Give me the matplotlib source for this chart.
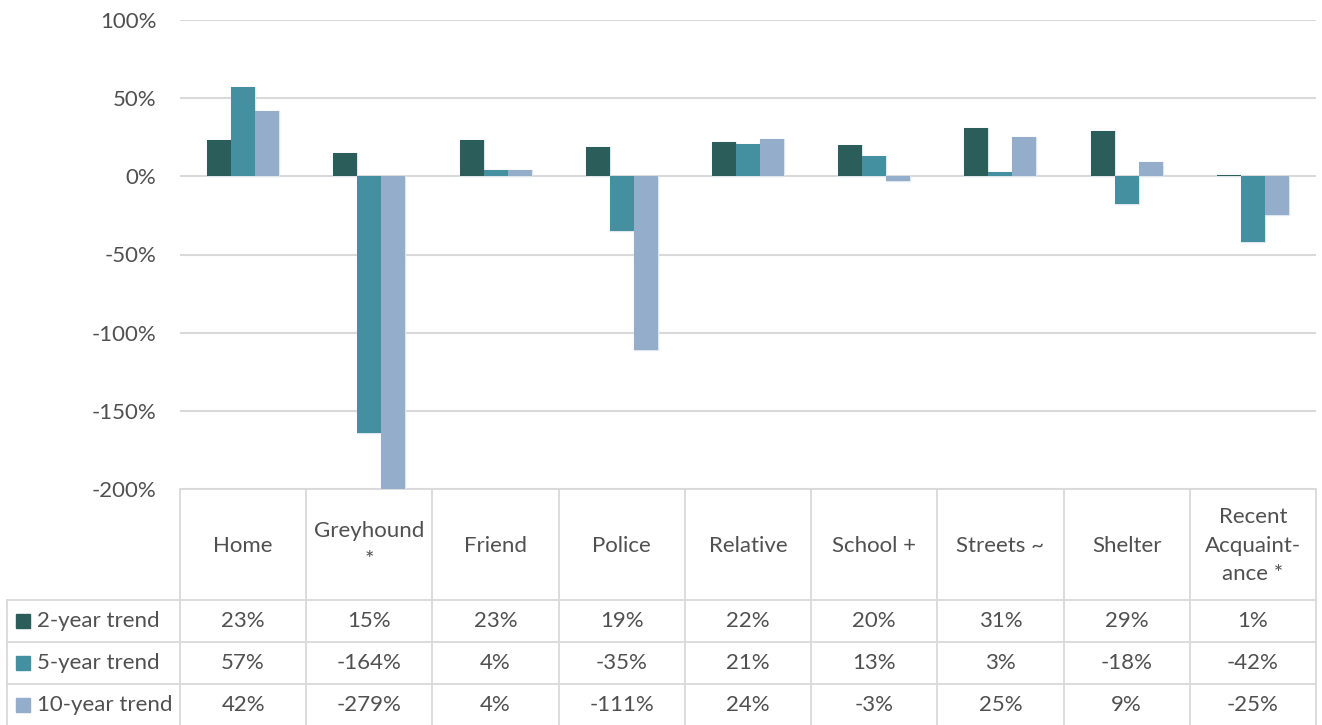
import numpy as np
import matplotlib
matplotlib.use("Agg")
import matplotlib.pyplot as plt
from matplotlib.patches import Rectangle

# data
categories = ["Home", "Greyhound\n*", "Friend", "Police", "Relative",
              "School +", "Streets ~", "Shelter", "Recent\nAcquaint-\nance *"]
series_names = ["2-year trend", "5-year trend", "10-year trend"]
trend_2yr = [23, 15, 23, 19, 22, 20, 31, 29, 1]
trend_5yr = [57, -164, 4, -35, 21, 13, 3, -18, -42]
trend_10yr = [42, -279, 4, -111, 24, -3, 25, 9, -25]
y_ticks = [100, 50, 0, -50, -100, -150, -200]

colors = ["#2b5e5b", "#4590a0", "#93adcb"]
text_color = "#505050"
grid_color = "#d9d9d9"
plt.rcParams["font.family"] = ["Lato", "DejaVu Sans"]
FS = 16

W, H = 1322, 725
LEFT, RIGHT = 180, 1316
TOP, BOTTOM = 20, 489
ROWS = [489, 600, 642, 684, 726]
LEG_X = 7

fig = plt.figure(figsize=(W / 100, H / 100), dpi=100)
ax = fig.add_axes([LEFT / W, 1 - BOTTOM / H, (RIGHT - LEFT) / W, (BOTTOM - TOP) / H])

x = np.arange(len(categories))
bw = 0.19
all_series = [trend_2yr, trend_5yr, trend_10yr]
for k, vals in enumerate(all_series):
    pos = x + (k - 1) * bw
    h = np.array(vals) / 100.0
    # light outline drawn under the face so tiny bars stay visible
    ax.bar(pos, h, bw, color=colors[k], edgecolor="#dfe7ee", linewidth=1.0, zorder=2)
    ax.bar(pos, h, bw, color=colors[k], linewidth=0, zorder=3)

ax.set_xlim(-0.5, len(categories) - 0.5)
ax.set_ylim(-2, 1)
ax.set_yticks([t / 100 for t in y_ticks])
ax.set_yticklabels([f"{t}%" for t in y_ticks], fontsize=FS, color=text_color)
ax.tick_params(axis="y", length=0, pad=17)
ax.tick_params(axis="x", length=0, labelbottom=False)
ax.yaxis.grid(True, color=grid_color, linewidth=1.5, zorder=0)
for s in ax.spines.values():
    s.set_visible(False)

# data table under the plot, drawn in pixel coordinates
tax = fig.add_axes([0, 0, 1, 1], zorder=-1)
tax.set_xlim(0, W)
tax.set_ylim(H, 0)
tax.axis("off")

col_w = (RIGHT - LEFT) / len(categories)
col_edges = [LEFT + i * col_w for i in range(len(categories) + 1)]
lw = 1.3
tax.plot([LEFT, RIGHT], [ROWS[0], ROWS[0]], color=grid_color, lw=lw)
for yy in ROWS[1:]:
    tax.plot([LEG_X, RIGHT], [yy, yy], color=grid_color, lw=lw)
for xx in col_edges:
    tax.plot([xx, xx], [ROWS[0], H], color=grid_color, lw=lw)
tax.plot([LEG_X, LEG_X], [ROWS[1], H], color=grid_color, lw=lw)

for i, cat in enumerate(categories):
    cx = (col_edges[i] + col_edges[i + 1]) / 2
    tax.text(cx, (ROWS[0] + ROWS[1]) / 2 + 1, cat, ha="center", va="center",
             fontsize=FS, color=text_color, linespacing=1.55)

for r, (name, vals) in enumerate(zip(series_names, all_series)):
    cy = (ROWS[r + 1] + ROWS[r + 2]) / 2
    tax.add_patch(Rectangle((16, cy - 7), 14, 14, color=colors[r]))
    tax.text(37, cy, name, ha="left", va="center", fontsize=FS, color=text_color)
    for i, v in enumerate(vals):
        cx = (col_edges[i] + col_edges[i + 1]) / 2
        tax.text(cx, cy, f"{v}%", ha="center", va="center",
                 fontsize=FS, color=text_color)

fig.savefig("out.png", dpi=100)
